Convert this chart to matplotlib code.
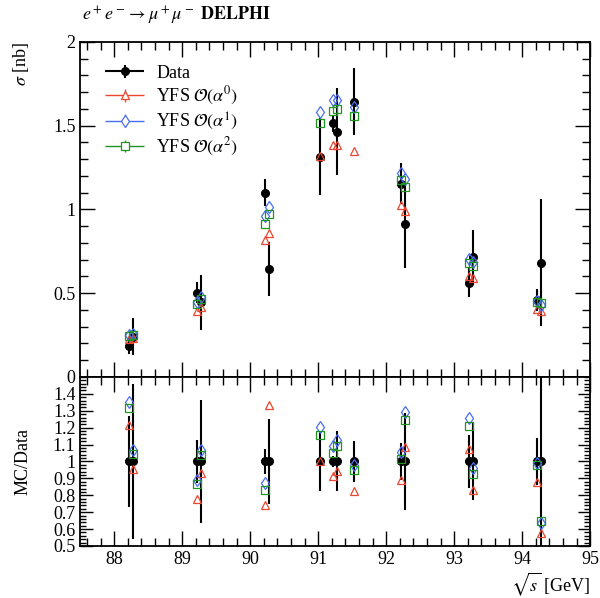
import numpy as np
import matplotlib
matplotlib.use("Agg")
from matplotlib import pyplot as plt
from matplotlib.ticker import MultipleLocator, FuncFormatter
from matplotlib.legend_handler import HandlerErrorbar

plt.rcParams['font.family'] = ['Liberation Serif', 'DejaVu Serif']
plt.rcParams['mathtext.fontset'] = 'stix'
plt.rcParams['font.size'] = 13

# centre-of-mass energies (GeV)
energies = [88.22, 88.28, 89.22, 89.28, 90.22, 90.28, 91.03, 91.22,
            91.28, 91.53, 92.22, 92.28, 93.22, 93.28, 94.22, 94.28]

# measured cross section (nb) and its uncertainty
data_xs = [0.185, 0.240, 0.503, 0.446, 1.100, 0.643, 1.315, 1.515,
           1.465, 1.644, 1.155, 0.913, 0.563, 0.714, 0.460, 0.682]
data_err = [0.050, 0.110, 0.064, 0.163, 0.080, 0.160, 0.230, 0.050,
            0.260, 0.200, 0.125, 0.260, 0.088, 0.162, 0.065, 0.380]

# YFS predictions at each order
yfs0 = [0.225, 0.230, 0.392, 0.415, 0.817, 0.858, 1.320, 1.385,
        1.386, 1.352, 1.025, 0.990, 0.605, 0.592, 0.405, 0.393]
yfs1 = [0.250, 0.257, 0.448, 0.476, 0.962, 1.015, 1.582, 1.655,
        1.653, 1.610, 1.218, 1.182, 0.707, 0.688, 0.455, 0.432]
yfs2 = [0.244, 0.250, 0.436, 0.464, 0.913, 0.971, 1.518, 1.590,
        1.598, 1.560, 1.175, 1.137, 0.681, 0.662, 0.450, 0.443]

mc_labels = [r"YFS $\mathcal{O}(\alpha^0)$", r"YFS $\mathcal{O}(\alpha^1)$",
             r"YFS $\mathcal{O}(\alpha^2)$"]
mc_colors = ["#ec4630", "#4a6ef2", "#1e961e"]
mc_markers = ["^", "d", "s"]

x = np.array(energies)
d = np.array(data_xs)
de = np.array(data_err)
rlo, rhi = 0.5, 1.5

fig = plt.figure(figsize=(6.0, 5.98), dpi=100)
ax = fig.add_axes([0.1338, 0.3696, 0.85, 0.5602])
rax = fig.add_axes([0.1338, 0.087, 0.85, 0.2826], sharex=ax)

# legend proxies (errorbar style handles with both bars)
ax.errorbar([np.nan], [np.nan], xerr=[1], yerr=[1], fmt="o", color="black",
            ms=5.5, lw=1.5, label="Data")
for lab, col, mk in zip(mc_labels, mc_colors, mc_markers):
    ax.errorbar([np.nan], [np.nan], xerr=[1], yerr=[1], fmt=mk, color=col,
                mfc="white", ms=6, mew=0.9, lw=1.0, label=lab)

# main panel
ax.errorbar(x, d, yerr=de, fmt="o", color="black", ms=5.5, lw=1.5, zorder=2)
for ys, col, mk in zip([yfs0, yfs1, yfs2], mc_colors, mc_markers):
    ax.plot(x, ys, mk, color=col, mfc="none", ms=6, mew=0.9, zorder=3)

# ratio panel: points outside the range are left out
rax.errorbar(x, np.ones_like(d), yerr=de / d, fmt="o", color="black",
             ms=5.5, lw=1.5, zorder=2)
for ys, col, mk in zip([yfs0, yfs1, yfs2], mc_colors, mc_markers):
    r = np.array(ys) / d
    r = np.where((r > rlo) & (r < rhi), r, np.nan)
    rax.plot(x, r, mk, color=col, mfc="none", ms=6, mew=0.9, zorder=3)

ax.set_xlim(87.5, 95)
ax.set_ylim(0, 2)
rax.set_ylim(rlo, rhi)

fmt = FuncFormatter(lambda v, p: "%g" % v)
ax.yaxis.set_major_locator(MultipleLocator(0.5))
ax.yaxis.set_minor_locator(MultipleLocator(0.1))
ax.yaxis.set_major_formatter(fmt)
ax.xaxis.set_major_locator(MultipleLocator(1))
ax.xaxis.set_minor_locator(MultipleLocator(0.2))
rax.set_yticks(np.arange(0.5, 1.45, 0.1))
rax.yaxis.set_minor_locator(MultipleLocator(0.02))
rax.yaxis.set_major_formatter(fmt)
rax.xaxis.set_major_formatter(fmt)
plt.setp(ax.get_xticklabels(), visible=False)

for a in (ax, rax):
    a.tick_params(which="both", direction="in", top=True, right=True,
                  width=1.0, colors="black")
    a.tick_params(which="major", length=11)
    a.tick_params(which="minor", length=5.5)
    for s in a.spines.values():
        s.set_linewidth(1.3)
rax.tick_params(axis="y", which="major", length=9)
rax.tick_params(axis="y", which="minor", length=4)

ax.set_ylabel(r"$\sigma$ [nb]", loc="top")
ax.yaxis.set_label_coords(-0.096, 1.0)
rax.set_ylabel("MC/Data")
rax.yaxis.set_label_coords(-0.096, 0.5)
rax.set_xlabel(r"$\sqrt{s}$ [GeV]", loc="right", labelpad=2)

fig.text(0.137, 0.973, r"$e^+e^-\to\mu^+\mu^-$ $\mathbf{DELPHI}$",
         ha="left", va="center", fontsize=13)

ax.legend(loc="upper left", bbox_to_anchor=(0.025, 0.965), frameon=False,
          handlelength=2.3, handletextpad=0.6, labelspacing=0.2,
          borderaxespad=0.2,
          handler_map={type(ax.containers[0]):
                       HandlerErrorbar(xerr_size=1.1, yerr_size=0.35)})

fig.savefig("out.png", dpi=100)
